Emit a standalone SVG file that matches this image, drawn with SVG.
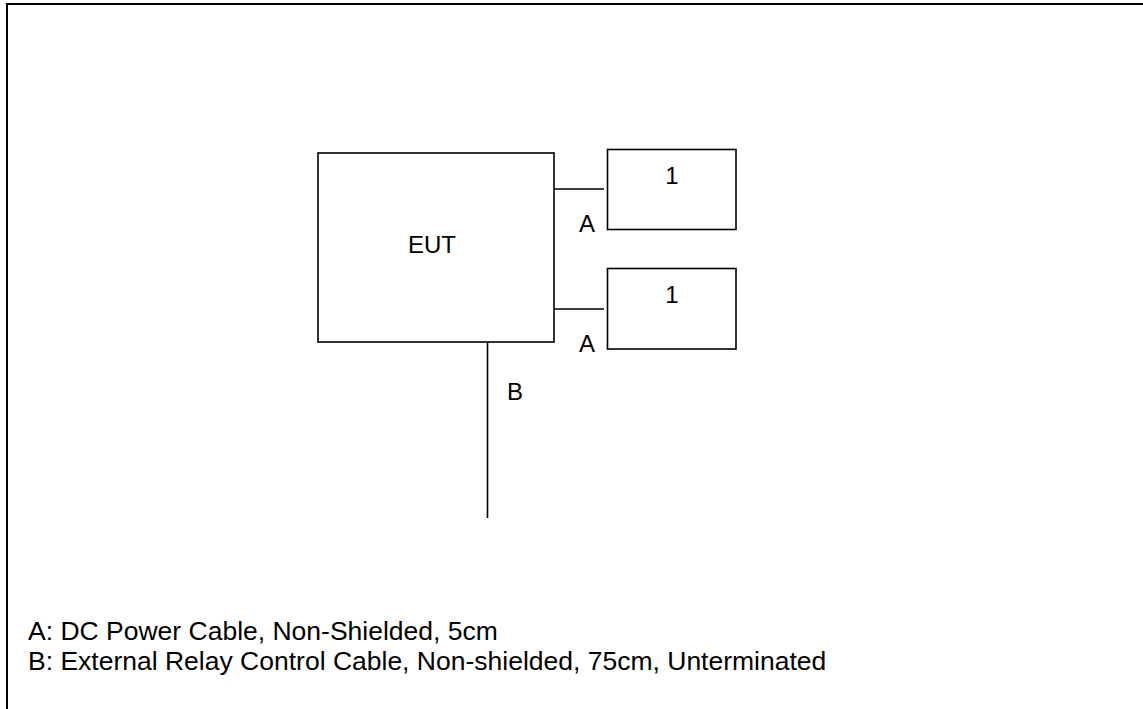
<svg xmlns="http://www.w3.org/2000/svg" width="1143" height="709" viewBox="0 0 1143 709">
  <style>
    .box { fill: #fff; stroke: #000; stroke-width: 1.6; }
    .wire { stroke: #000; stroke-width: 1.6; fill: none; }
    .lbl { font-family: "Liberation Sans", Arial, sans-serif; font-size: 24px; fill: #000; }
    .note { font-family: "Liberation Sans", Arial, sans-serif; font-size: 26.5px; fill: #000; }
  </style>
  <rect width="1143" height="709" fill="#fff"/>
  <!-- outer frame, running past the right and bottom edges -->
  <rect x="7" y="4" width="1150" height="720" fill="none" stroke="#000" stroke-width="2"/>

  <g id="connectors">
    <line class="wire" x1="554" y1="189" x2="604" y2="189"/>
    <line class="wire" x1="554" y1="309" x2="604" y2="309"/>
    <line class="wire" x1="487.5" y1="342" x2="487.5" y2="518"/>
    <text class="lbl" x="579" y="232">A</text>
    <text class="lbl" x="579" y="352">A</text>
    <text class="lbl" x="507" y="400">B</text>
  </g>

  <g id="eut">
    <rect class="box" x="318" y="153" width="236" height="189"/>
    <text class="lbl" x="432" y="253" text-anchor="middle">EUT</text>
  </g>

  <g id="aux1">
    <rect class="box" x="607.5" y="149.5" width="128.5" height="80"/>
    <text class="lbl" x="672" y="184" text-anchor="middle">1</text>
  </g>

  <g id="aux2">
    <rect class="box" x="607.5" y="268.5" width="128.5" height="80.5"/>
    <text class="lbl" x="672" y="303" text-anchor="middle">1</text>
  </g>

  <g id="legend">
    <text class="note" x="28" y="640">A: DC Power Cable, Non-Shielded, 5cm</text>
    <text class="note" x="28" y="670">B: External Relay Control Cable, Non-shielded, 75cm, Unterminated</text>
  </g>
</svg>
